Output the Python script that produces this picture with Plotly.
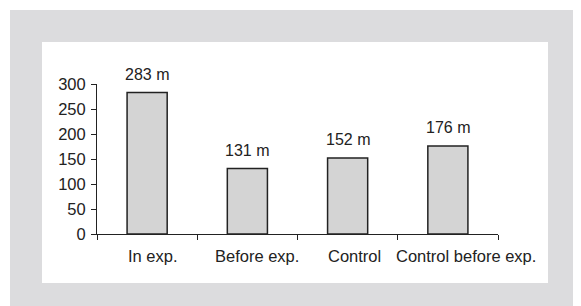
import plotly.graph_objects as go

categories = ["In exp.", "Before exp.", "Control", "Control before exp."]
values = [283, 131, 152, 176]
labels = ["283 m", "131 m", "152 m", "176 m"]
y_ticks = [0, 50, 100, 150, 200, 250, 300]

# horizontal nudges of category labels as drawn in the original (pixels)
label_nudge = [5.5, 10, 7, 18.5]

W, H = 581, 306
OFF = 8  # page body margin
ml, mt = 97 - OFF, 84 - OFF
mr = W - (498 - OFF)
mb = H - (234 - OFF)
pw, ph = W - ml - mr, H - mt - mb

def px_x(p):
    return (p - OFF - ml) / pw

def px_y(p):
    return 1 - (p - OFF - mt) / ph

fig = go.Figure()
fig.add_trace(go.Bar(
    x=categories, y=values, width=0.4,
    marker=dict(color="#d4d4d4", line=dict(color="#222222", width=1.5)),
    hoverinfo="skip",
))

for c, v, t in zip(categories, values, labels):
    fig.add_annotation(x=c, y=v, text=t, showarrow=False, yanchor="bottom",
                       yshift=8, font=dict(size=16, color="#222222"))

for c, dx in zip(categories, label_nudge):
    fig.add_annotation(x=c, xref="x", y=0, yref="paper", text=c, showarrow=False,
                       yanchor="middle", yshift=-22, xshift=dx,
                       font=dict(size=16.5, color="#222222"))

shapes = [
    dict(type="rect", xref="paper", yref="paper", x0=px_x(10), x1=px_x(600),
         y0=px_y(320), y1=px_y(10), fillcolor="#dcdcde", line=dict(width=0), layer="below"),
    dict(type="rect", xref="paper", yref="paper", x0=px_x(42), x1=px_x(548),
         y0=px_y(283), y1=px_y(42), fillcolor="#ffffff", line=dict(width=0), layer="below"),
]

fig.update_layout(
    width=W, height=H,
    margin=dict(l=ml, r=mr, t=mt, b=mb, pad=0, autoexpand=False),
    paper_bgcolor="white", plot_bgcolor="rgba(0,0,0,0)",
    showlegend=False, shapes=shapes,
    font=dict(family="Liberation Sans, Arial, sans-serif", size=16, color="#222222"),
    bargap=0.6,
)
fig.update_xaxes(
    type="category", categoryarray=categories, categoryorder="array",
    range=[-0.5, len(categories) - 0.5],
    showline=True, linecolor="#222222", linewidth=1,
    ticks="outside", tickson="boundaries", ticklen=5, tickcolor="#222222",
    showgrid=False, zeroline=False, showticklabels=False,
    automargin=False,
)
fig.update_yaxes(
    range=[0, 300], tickvals=y_ticks, showline=True, linecolor="#222222", linewidth=1,
    ticks="outside", ticklen=5, tickcolor="#222222", showgrid=False, zeroline=False,
    ticklabelstandoff=2, automargin=False, tickfont=dict(size=16.5, color="#222222"),
)

fig.write_html("out.html")
